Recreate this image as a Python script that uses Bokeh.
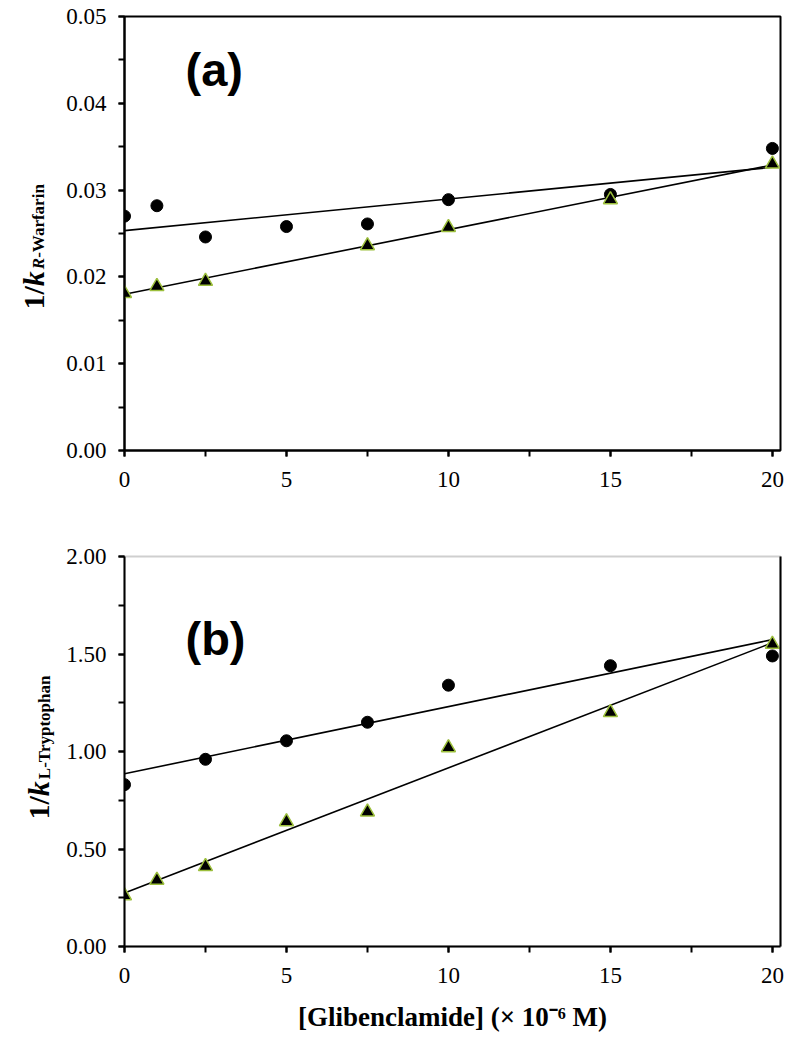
import numpy as np
from bokeh.plotting import figure
from bokeh.layouts import column, row
from bokeh.models import (Label, Range1d, SingleIntervalTicker, PrintfTickFormatter,
                          LinearAxis, FixedTicker)
from bokeh.embed import file_html
from bokeh.resources import INLINE

# ---------------- data ----------------
a_circle_x = [0, 1, 2.5, 5, 7.5, 10, 15, 20]
a_circle_y = [0.0270, 0.0282, 0.0246, 0.0258, 0.0261, 0.0289, 0.0295, 0.0348]
a_tri_x = [0, 1, 2.5, 7.5, 10, 15, 20]
a_tri_y = [0.0181, 0.0189, 0.0195, 0.0236, 0.0257, 0.0289, 0.0330]

b_circle_x = [0, 2.5, 5, 7.5, 10, 15, 20]
b_circle_y = [0.83, 0.96, 1.055, 1.15, 1.34, 1.44, 1.49]
b_tri_x = [0, 1, 2.5, 5, 7.5, 10, 15, 20]
b_tri_y = [0.26, 0.34, 0.41, 0.64, 0.69, 1.02, 1.20, 1.55]

X_END = 20.25
FRAME_W = 656
LAB_W = 60
SERIF = "Liberation Serif"
SANS = "Liberation Sans"
TRI_EDGE = "#9cbf3c"

H1_TOP, H1_FRAME, H1_BOT = 16, 434, 50
H2_TOP, H2_FRAME, H2_BOT = 56, 390, 95
TOTAL_H = H1_TOP + H1_FRAME + H1_BOT + H2_TOP + H2_FRAME + H2_BOT


def style_axes(p, y_interval, y_fmt):
    p.xaxis.ticker = SingleIntervalTicker(interval=5, num_minor_ticks=2)
    p.yaxis.ticker = SingleIntervalTicker(interval=y_interval, num_minor_ticks=2)
    p.yaxis.formatter = PrintfTickFormatter(format=y_fmt)
    for ax in (p.xaxis, p.yaxis):
        ax.axis_line_width = 2
        ax.axis_line_color = "black"
        ax.major_tick_line_width = 2
        ax.minor_tick_line_width = 2
        ax.major_tick_line_color = "black"
        ax.minor_tick_line_color = "black"
        ax.major_tick_in = 0
        ax.major_tick_out = 6
        ax.minor_tick_in = 0
        ax.minor_tick_out = 6
        ax.major_label_text_font = SERIF
        ax.major_label_text_font_size = "23px"
        ax.major_label_text_color = "black"
    p.yaxis.major_label_standoff = 12
    p.xaxis.major_label_standoff = 15
    p.xgrid.grid_line_color = None
    p.ygrid.grid_line_color = None
    p.outline_line_color = "black"
    p.outline_line_width = 2
    p.outline_line_alpha = 1.0


def add_data(p, cx, cy, tx, ty):
    for xs, ys in ((cx, cy), (tx, ty)):
        k, b = np.polyfit(xs, ys, 1)
        p.line([0, 20], [b, b + 20 * k], line_color="black", line_width=1.6)
    p.scatter(cx, cy, marker="circle", size=12, fill_color="black", line_color="black")
    p.scatter(tx, ty, marker="triangle", size=14, fill_color="black",
              line_color=TRI_EDGE, line_width=1.5)


# ---------- tall narrow figure holding both rotated y-axis titles ----------
lab = figure(frame_width=LAB_W, frame_height=TOTAL_H, output_backend="svg",
             toolbar_location=None, x_range=Range1d(0, LAB_W),
             y_range=Range1d(0, TOTAL_H), x_axis_location=None,
             y_axis_location=None, min_border=0)
lab.outline_line_color = None
lab.xgrid.grid_line_color = None
lab.ygrid.grid_line_color = None


def ytitle(base_px, sub_px, start_px, sub_name, sub_italic):
    main_size = 30
    sub_size = 17
    common = dict(angle=np.pi / 2, text_font=SERIF, text_baseline="alphabetic",
                  text_align="left", text_color="black")
    pos = start_px
    lab.add_layout(Label(x=base_px, y=TOTAL_H - pos, text="1/", text_font_style="bold",
                         text_font_size=f"{main_size}px", **common))
    pos -= main_size * 0.778
    lab.add_layout(Label(x=base_px, y=TOTAL_H - pos, text="k",
                         text_font_style="bold italic",
                         text_font_size=f"{main_size}px", **common))
    pos -= main_size * 0.5 + 2
    first, rest = sub_name
    lab.add_layout(Label(x=sub_px, y=TOTAL_H - pos, text=first,
                         text_font_style="bold italic" if sub_italic else "bold",
                         text_font_size=f"{sub_size}px", **common))
    pos -= sub_size * 0.667
    lab.add_layout(Label(x=sub_px, y=TOTAL_H - pos, text=rest, text_font_style="bold",
                         text_font_size=f"{sub_size}px", **common))


ytitle(33, 38, 309, ("R", "-Warfarin"), True)
ytitle(38, 44, 819, ("L", "-Tryptophan"), False)

# ---------------- panel (a) ----------------
p1 = figure(frame_width=FRAME_W, frame_height=H1_FRAME, output_backend="svg",
            toolbar_location=None, x_range=Range1d(0, X_END), y_range=Range1d(0, 0.05),
            min_border_left=124 - LAB_W, min_border_right=10, min_border_top=H1_TOP,
            min_border_bottom=H1_BOT, background_fill_color="white")
style_axes(p1, 0.01, "%.2f")
add_data(p1, a_circle_x, a_circle_y, a_tri_x, a_tri_y)
p1.add_layout(Label(x=(185 - 124) / (FRAME_W / X_END), y=(450 - 69) / 434 * 0.05,
                    text="(a)", text_font=SANS, text_font_style="bold",
                    text_font_size="47px", text_color="black",
                    text_baseline="alphabetic", text_align="left"))

# ---------------- panel (b) ----------------
p2 = figure(frame_width=FRAME_W, frame_height=H2_FRAME, output_backend="svg",
            toolbar_location=None, x_range=Range1d(0, X_END), y_range=Range1d(0, 2.0),
            min_border_left=124 - LAB_W, min_border_right=10, min_border_top=H2_TOP,
            min_border_bottom=H2_BOT, background_fill_color="white")
style_axes(p2, 0.5, "%.2f")
p2.outline_line_color = "#cfcfcf"
right_edge = LinearAxis(ticker=FixedTicker(ticks=[]), axis_line_color="black",
                        axis_line_width=2, major_tick_line_color=None,
                        minor_tick_line_color=None, major_tick_out=0,
                        minor_tick_out=0, major_tick_in=0, minor_tick_in=0)
p2.add_layout(right_edge, "right")
add_data(p2, b_circle_x, b_circle_y, b_tri_x, b_tri_y)
p2.add_layout(Label(x=(185 - 124) / (FRAME_W / X_END), y=(946 - 638) / 390 * 2.0,
                    text="(b)", text_font=SANS, text_font_style="bold",
                    text_font_size="47px", text_color="black",
                    text_baseline="alphabetic", text_align="left"))
p2.xaxis.axis_label = "[Glibenclamide] (× 10⁻⁶ M)"
p2.xaxis.axis_label_text_font = SERIF
p2.xaxis.axis_label_text_font_style = "bold"
p2.xaxis.axis_label_text_font_size = "27px"
p2.xaxis.axis_label_text_color = "black"
p2.xaxis.axis_label_standoff = 16

layout = row(lab, column(p1, p2, spacing=0), spacing=0)
open("out.html", "w").write(file_html(layout, INLINE))
